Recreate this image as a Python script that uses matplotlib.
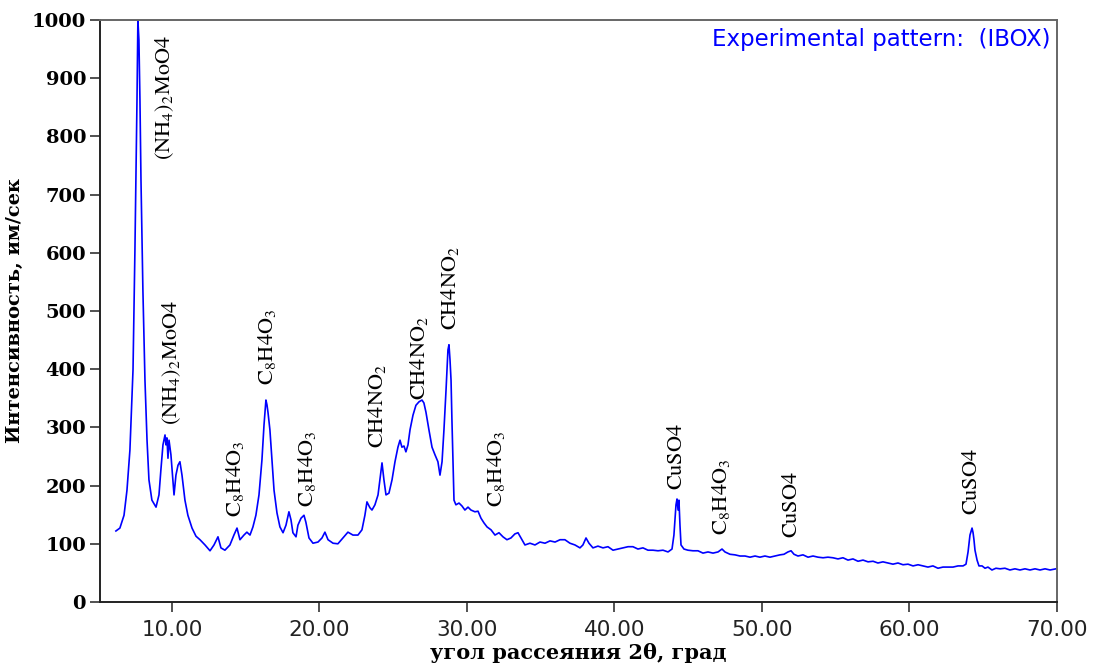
import matplotlib
matplotlib.use('Agg')
import matplotlib.pyplot as plt

plt.rcParams['mathtext.fontset'] = 'stix'

# XRD pattern: 2theta (deg) and intensity (counts/s)
two_theta = [
    6.20, 6.47, 6.75, 6.95, 7.15, 7.36, 7.49, 7.63, 7.69, 7.76, 7.83, 7.90, 8.03, 8.17,
    8.31, 8.44, 8.64, 8.92, 9.12, 9.25, 9.39, 9.53, 9.59, 9.66, 9.73, 9.80, 9.93, 10.14,
    10.27, 10.41, 10.54, 10.68, 10.88, 11.08, 11.36, 11.63, 11.90, 12.24, 12.58, 12.85,
    13.12, 13.32, 13.59, 13.93, 14.20, 14.41, 14.61, 14.88, 15.08, 15.29, 15.49, 15.69,
    15.90, 16.10, 16.24, 16.37, 16.44, 16.51, 16.64, 16.78, 16.92, 17.12, 17.32, 17.53,
    17.73, 17.93, 18.07, 18.20, 18.41, 18.54, 18.75, 18.95, 19.08, 19.29, 19.56, 19.90,
    20.17, 20.37, 20.58, 20.92, 21.25, 21.59, 21.93, 22.27, 22.61, 22.88, 23.08, 23.22,
    23.42, 23.56, 23.76, 23.97, 24.24, 24.37, 24.51, 24.71, 24.92, 25.12, 25.32, 25.46,
    25.59, 25.73, 25.86, 26.00, 26.14, 26.34, 26.54, 26.75, 26.95, 27.08, 27.22, 27.42,
    27.63, 27.83, 28.03, 28.17, 28.31, 28.44, 28.58, 28.71, 28.78, 28.85, 28.92, 28.98,
    29.05, 29.12, 29.25, 29.46, 29.66, 29.86, 30.07, 30.27, 30.54, 30.75, 30.95, 31.15,
    31.36, 31.63, 31.90, 32.17, 32.44, 32.71, 32.98, 33.25, 33.46, 33.66, 33.93, 34.27,
    34.61, 34.95, 35.29, 35.63, 35.97, 36.31, 36.64, 36.98, 37.32, 37.66, 37.86, 38.07,
    38.27, 38.54, 38.88, 39.22, 39.56, 39.90, 40.24, 40.58, 40.92, 41.25, 41.59, 41.93,
    42.27, 42.61, 42.95, 43.29, 43.63, 43.90, 44.03, 44.17, 44.24, 44.31, 44.37, 44.44,
    44.51, 44.71, 44.98, 45.32, 45.66, 46.00, 46.34, 46.68, 47.02, 47.29, 47.49, 47.83,
    48.17, 48.51, 48.85, 49.19, 49.53, 49.86, 50.20, 50.54, 50.88, 51.22, 51.49, 51.76,
    51.97, 52.17, 52.44, 52.78, 53.12, 53.46, 53.80, 54.14, 54.47, 54.81, 55.15, 55.49,
    55.83, 56.17, 56.51, 56.85, 57.19, 57.53, 57.86, 58.20, 58.54, 58.88, 59.22, 59.56,
    59.90, 60.24, 60.58, 60.92, 61.25, 61.59, 61.93, 62.27, 62.61, 62.95, 63.29, 63.63,
    63.83, 63.97, 64.10, 64.24, 64.31, 64.37, 64.44, 64.58, 64.71, 64.92, 65.12, 65.32,
    65.59, 65.86, 66.14, 66.47, 66.81, 67.15, 67.49, 67.83, 68.17, 68.51, 68.85, 69.19,
    69.53, 69.93,
]
intensity = [
    122, 127, 149, 192, 261, 399, 605, 863, 1000, 966, 863, 725, 536, 381,
    278, 210, 175, 163, 184, 227, 270, 287, 270, 282, 247, 278, 253, 184,
    218, 235, 241, 218, 175, 149, 127, 113, 107, 98, 88, 98,
    112, 93, 89, 98, 115, 127, 107, 115, 120, 115, 129, 149,
    184, 244, 304, 347, 339, 326, 296, 244, 192, 153, 129, 119,
    132, 155, 141, 119, 112, 132, 144, 149, 137, 110, 101, 103,
    110, 120, 107, 101, 100, 110, 120, 115, 115, 124, 149, 172,
    162, 158, 167, 184, 239, 210, 184, 187, 210, 241, 266, 278,
    266, 268, 258, 270, 296, 321, 338, 344, 347, 342, 326, 296,
    266, 253, 241, 218, 241, 296, 364, 433, 442, 416, 381, 313,
    244, 175, 167, 170, 165, 158, 163, 158, 155, 156, 144, 136,
    129, 124, 115, 119, 112, 107, 110, 117, 119, 110, 98, 101,
    98, 103, 101, 105, 103, 107, 107, 101, 98, 93, 98, 110,
    101, 93, 96, 93, 95, 89, 91, 93, 95, 95, 91, 93,
    89, 89, 88, 89, 86, 91, 115, 167, 177, 158, 175, 132,
    98, 91, 89, 88, 88, 84, 86, 84, 86, 91, 86, 82,
    81, 79, 79, 77, 79, 77, 79, 77, 79, 81, 82, 86,
    88, 82, 79, 81, 77, 79, 77, 76, 77, 76, 74, 76,
    72, 74, 70, 72, 69, 70, 67, 69, 67, 65, 67, 64,
    65, 62, 64, 62, 60, 62, 58, 60, 60, 60, 62, 62,
    65, 86, 115, 127, 119, 107, 89, 72, 62, 62, 58, 60,
    55, 58, 57, 58, 55, 57, 55, 57, 55, 57, 55, 57,
    55, 57,
]

# phase annotations: text, 2theta, intensity at the bottom of the rotated label
phase_labels = [
    r'$\mathrm{(NH_4)_2MoO4}$', r'$\mathrm{(NH_4)_2MoO4}$', r'$\mathrm{C_8H4O_3}$',
    r'$\mathrm{C_8H4O_3}$', r'$\mathrm{C_8H4O_3}$', r'$\mathrm{CH4NO_2}$',
    r'$\mathrm{CH4NO_2}$', r'$\mathrm{CH4NO_2}$', r'$\mathrm{C_8H4O_3}$',
    r'$\mathrm{CuSO4}$', r'$\mathrm{C_8H4O_3}$', r'$\mathrm{CuSO4}$', r'$\mathrm{CuSO4}$',
]
label_x = [9.53, 10.0, 14.3, 16.44, 19.15, 23.9, 26.75, 28.85, 31.97, 44.17, 47.2, 51.97, 64.17]
label_y = [759, 304, 146, 373, 163, 265, 347, 467, 163, 192, 115, 110, 149]

x_ticks = [10, 20, 30, 40, 50, 60, 70]
y_ticks = [0, 100, 200, 300, 400, 500, 600, 700, 800, 900, 1000]

fig = plt.figure(figsize=(10.95, 6.66), dpi=100, facecolor='white')
ax = fig.add_axes([0.0913, 0.0961, 0.8740, 0.8739])

ax.plot(two_theta, intensity, color='#0000ff', lw=1.2)

ax.set_xlim(5.12, 70)
ax.set_ylim(0, 1000)
ax.set_xticks(x_ticks)
ax.set_xticklabels([f'{t:.2f}' for t in x_ticks], family='DejaVu Sans', fontsize=15.5, color='#222222')
ax.set_yticks(y_ticks)
ax.set_yticklabels([str(t) for t in y_ticks], family='DejaVu Serif', fontweight='bold', fontsize=14)
ax.tick_params(axis='both', direction='out', length=7, width=1.2, color='#333333', pad=3)
ax.tick_params(axis='x', pad=6)

for side in ['left', 'bottom']:
    ax.spines[side].set_color('#222222')
    ax.spines[side].set_linewidth(1.4)
for side in ['top', 'right']:
    ax.spines[side].set_color('#666666')
    ax.spines[side].set_linewidth(1.4)

for txt, lx, ly in zip(phase_labels, label_x, label_y):
    ax.text(lx, ly, txt, rotation=90, ha='center', va='bottom', fontsize=16, color='black')

ax.text(0.993, 0.987, 'Experimental pattern:  (IBOX)', transform=ax.transAxes,
        ha='right', va='top', color='#0000ff', fontsize=16.5, family='DejaVu Sans')

ax.set_ylabel('Интенсивность, им/сек', family='DejaVu Serif', fontweight='bold', fontsize=14, labelpad=6)
ax.set_xlabel('угол рассеяния 2θ, град', family='DejaVu Serif', fontweight='bold', fontsize=15, labelpad=2)

fig.savefig('out.png', dpi=100, facecolor='white')
